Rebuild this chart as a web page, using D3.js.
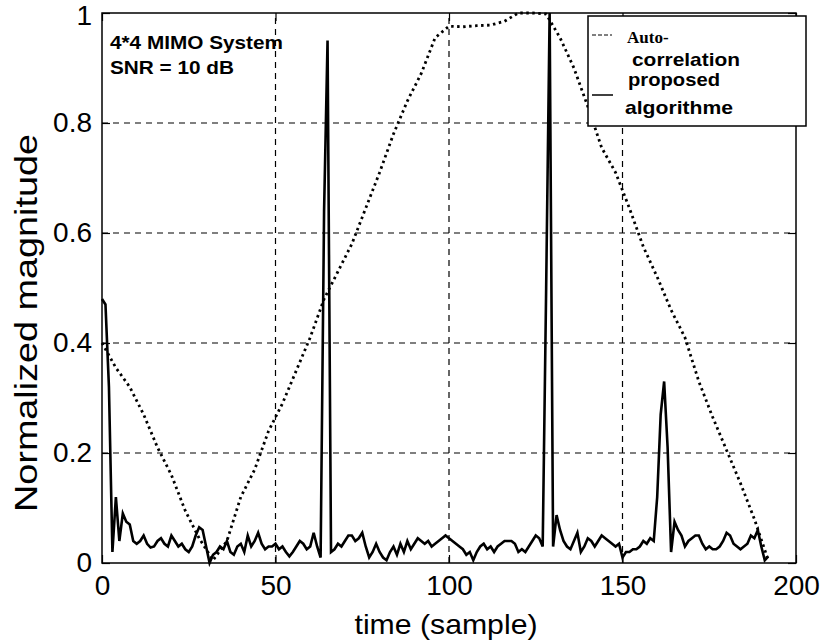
<!DOCTYPE html>
<html>
<head>
<meta charset="utf-8">
<script src="https://cdn.jsdelivr.net/npm/d3@7"></script>
<style>
  body { margin: 0; background: white; }
  svg { display: block; }
</style>
</head>
<body>
<script>
var width = 829;
var height = 644;

// proposed algorithm, one value per sample (t = 0..192)
var proposed = [
  0.48, 0.47, 0.32, 0.02, 0.12, 0.04, 0.09, 0.075, 0.07, 0.04,
  0.035, 0.04, 0.05, 0.035, 0.028, 0.03, 0.04, 0.045, 0.035, 0.03,
  0.05, 0.04, 0.03, 0.035, 0.025, 0.02, 0.03, 0.05, 0.065, 0.06,
  0.03, 0.0, 0.015, 0.02, 0.03, 0.025, 0.04, 0.02, 0.015, 0.03,
  0.035, 0.02, 0.05, 0.03, 0.04, 0.055, 0.035, 0.025, 0.03, 0.03,
  0.035, 0.025, 0.03, 0.02, 0.012, 0.02, 0.03, 0.04, 0.035, 0.025,
  0.03, 0.055, 0.03, 0.01, 0.64, 0.95, 0.02, 0.025, 0.035, 0.03,
  0.04, 0.05, 0.05, 0.04, 0.045, 0.055, 0.03, 0.01, 0.02, 0.035,
  0.02, 0.01, 0.005, 0.02, 0.03, 0.015, 0.035, 0.02, 0.04, 0.025,
  0.035, 0.045, 0.04, 0.035, 0.04, 0.03, 0.035, 0.04, 0.045, 0.05,
  0.045, 0.04, 0.035, 0.03, 0.025, 0.015, 0.02, 0.005, 0.02, 0.03,
  0.035, 0.025, 0.03, 0.02, 0.03, 0.035, 0.04, 0.04, 0.04, 0.035,
  0.02, 0.025, 0.02, 0.03, 0.04, 0.05, 0.045, 0.03, 0.50, 1.0,
  0.03, 0.087, 0.06, 0.04, 0.03, 0.025, 0.04, 0.055, 0.02, 0.03,
  0.045, 0.04, 0.03, 0.04, 0.05, 0.045, 0.04, 0.035, 0.03, 0.035,
  0.01, 0.02, 0.02, 0.025, 0.025, 0.03, 0.04, 0.035, 0.045, 0.04,
  0.12, 0.27, 0.33, 0.21, 0.02, 0.075, 0.06, 0.05, 0.03, 0.04,
  0.045, 0.05, 0.05, 0.035, 0.025, 0.03, 0.025, 0.025, 0.03, 0.04,
  0.055, 0.05, 0.035, 0.03, 0.025, 0.03, 0.035, 0.05, 0.045, 0.06,
  0.03, 0.005, 0.012
];

// auto-correlation, read every 4 samples
var autoSamples = [0, 4, 8, 12, 16, 20, 24, 28, 32, 36, 40, 44, 48, 52, 56, 60, 64, 68, 72, 76, 80,
                   84, 88, 92, 96, 100, 104, 108, 112, 116, 120, 124, 128, 132, 136, 140, 144,
                   148, 152, 156, 160, 164, 168, 172, 176, 180, 184, 188, 192];
var autoValues = [0.40, 0.355, 0.32, 0.27, 0.21, 0.16, 0.095, 0.045, 0.005, 0.04, 0.12, 0.17,
                  0.24, 0.29, 0.35, 0.41, 0.48, 0.53, 0.58, 0.645, 0.71, 0.78, 0.84, 0.89,
                  0.955, 0.976, 0.975, 0.977, 0.978, 0.985, 1.0, 1.0, 0.998, 0.955, 0.9, 0.83,
                  0.755, 0.71, 0.645, 0.575, 0.52, 0.46, 0.41, 0.33, 0.265, 0.205, 0.145, 0.08, 0.005];

var xTicks = [0, 50, 100, 150, 200];
var yTicks = [0, 0.2, 0.4, 0.6, 0.8, 1];
var yTickLabels = ["0", "0.2", "0.4", "0.6", "0.8", "1"];

var sans = "'Liberation Sans', Arial, sans-serif";

const SVG = d3.select("body")
              .append("svg")
              .attr("width", width)
              .attr("height", height)
              .style("background-color", "white");

var xScale = d3.scaleLinear()
               .domain([0, 200])
               .range([102, 796]);

var yScale = d3.scaleLinear()
               .domain([0, 1])
               .range([563, 13]);

// grid
SVG.append("g")
   .selectAll("line")
   .data(xTicks.slice(1, -1))
   .enter()
   .append("line")
   .attr("x1", (d) => xScale(d))
   .attr("x2", (d) => xScale(d))
   .attr("y1", yScale(0))
   .attr("y2", yScale(1))
   .attr("stroke", "#000")
   .attr("stroke-width", 1.2)
   .attr("stroke-dasharray", "6,5");

SVG.append("g")
   .selectAll("line")
   .data(yTicks.slice(1, -1))
   .enter()
   .append("line")
   .attr("x1", xScale(0))
   .attr("x2", xScale(200))
   .attr("y1", (d) => yScale(d))
   .attr("y2", (d) => yScale(d))
   .attr("stroke", "#000")
   .attr("stroke-width", 1.2)
   .attr("stroke-dasharray", "6,5");

// axes, ticks pointing inward on all four sides
var xAxis = d3.axisBottom(xScale).tickValues(xTicks).tickSize(-8).tickPadding(12).tickFormat(d3.format("d"));
var yAxis = d3.axisLeft(yScale).tickValues(yTicks).tickSize(-8).tickPadding(10)
              .tickFormat((d, i) => yTickLabels[i]);

SVG.append("g")
   .attr("id", "x-axis")
   .attr("transform", "translate(0," + yScale(0) + ")")
   .call(xAxis);

SVG.append("g")
   .attr("id", "y-axis")
   .attr("transform", "translate(" + xScale(0) + ",0)")
   .call(yAxis);

SVG.append("g")
   .attr("transform", "translate(0," + yScale(1) + ")")
   .call(d3.axisTop(xScale).tickValues(xTicks).tickSize(-8).tickFormat(""));

SVG.append("g")
   .attr("transform", "translate(" + xScale(200) + ",0)")
   .call(d3.axisRight(yScale).tickValues(yTicks).tickSize(-8).tickFormat(""));

SVG.selectAll(".domain").remove();
SVG.selectAll(".tick line").attr("stroke", "#000").attr("stroke-width", 1.2);
SVG.selectAll(".tick text")
   .attr("fill", "#000")
   .style("font-family", sans)
   .style("font-size", "28px");

// keep the top label "1" inside the page
SVG.select("#y-axis").selectAll(".tick text")
   .filter((d) => d === 1)
   .attr("y", 3);

SVG.append("rect")
   .attr("x", xScale(0))
   .attr("y", yScale(1))
   .attr("width", xScale(200) - xScale(0))
   .attr("height", yScale(0) - yScale(1))
   .attr("fill", "none")
   .attr("stroke", "#000")
   .attr("stroke-width", 1.5);

// series
var line = d3.line()
             .x((d) => xScale(d[0]))
             .y((d) => yScale(d[1]));

SVG.append("path")
   .datum(autoSamples.map((t, i) => [t, autoValues[i]]))
   .attr("d", line)
   .attr("fill", "none")
   .attr("stroke", "#000")
   .attr("stroke-width", 2.8)
   .attr("stroke-dasharray", "2.5,3.5");

SVG.append("path")
   .datum(proposed.map((v, i) => [i, v]))
   .attr("d", line)
   .attr("fill", "none")
   .attr("stroke", "#000")
   .attr("stroke-width", 2.6)
   .attr("stroke-linejoin", "miter");

// annotation
SVG.append("text")
   .attr("x", 110).attr("y", 49)
   .attr("textLength", 173).attr("lengthAdjust", "spacingAndGlyphs")
   .style("font-family", sans).style("font-weight", "bold").style("font-size", "17.5px")
   .text("4*4 MIMO System");
SVG.append("text")
   .attr("x", 110).attr("y", 74)
   .attr("textLength", 124).attr("lengthAdjust", "spacingAndGlyphs")
   .style("font-family", sans).style("font-weight", "bold").style("font-size", "17.5px")
   .text("SNR = 10 dB");

// legend
var legend = SVG.append("g").attr("id", "legend");
legend.append("rect")
      .attr("x", 588).attr("y", 16)
      .attr("width", 218).attr("height", 110)
      .attr("fill", "white")
      .attr("stroke", "#000")
      .attr("stroke-width", 1.5);
legend.append("line")
      .attr("x1", 592).attr("x2", 612).attr("y1", 35).attr("y2", 35)
      .attr("stroke", "#000").attr("stroke-width", 1).attr("stroke-dasharray", "4,2");
legend.append("line")
      .attr("x1", 592).attr("x2", 613).attr("y1", 95).attr("y2", 95)
      .attr("stroke", "#000").attr("stroke-width", 1.5);
legend.append("text")
      .attr("x", 627).attr("y", 43)
      .style("font-family", "'Liberation Serif', 'Times New Roman', serif")
      .style("font-weight", "bold").style("font-size", "17px")
      .text("Auto-");
var legendLines = [["correlation", 632, 66, 108], ["proposed", 628, 86, 92], ["algorithme", 625, 114, 108]];
legend.selectAll(".leg-text")
      .data(legendLines)
      .enter()
      .append("text")
      .attr("class", "leg-text")
      .attr("x", (d) => d[1]).attr("y", (d) => d[2])
      .attr("textLength", (d) => d[3]).attr("lengthAdjust", "spacingAndGlyphs")
      .style("font-family", sans).style("font-weight", "bold").style("font-size", "19px")
      .text((d) => d[0]);

// axis titles
SVG.append("text")
   .attr("x", 446).attr("y", 634)
   .attr("text-anchor", "middle")
   .attr("textLength", 183).attr("lengthAdjust", "spacingAndGlyphs")
   .style("font-family", sans).style("font-size", "28px")
   .text("time (sample)");

SVG.append("text")
   .attr("transform", "translate(37,323) rotate(-90)")
   .attr("text-anchor", "middle")
   .attr("textLength", 378).attr("lengthAdjust", "spacingAndGlyphs")
   .style("font-family", sans).style("font-size", "31px")
   .text("Normalized magnitude");
</script>
</body>
</html>
